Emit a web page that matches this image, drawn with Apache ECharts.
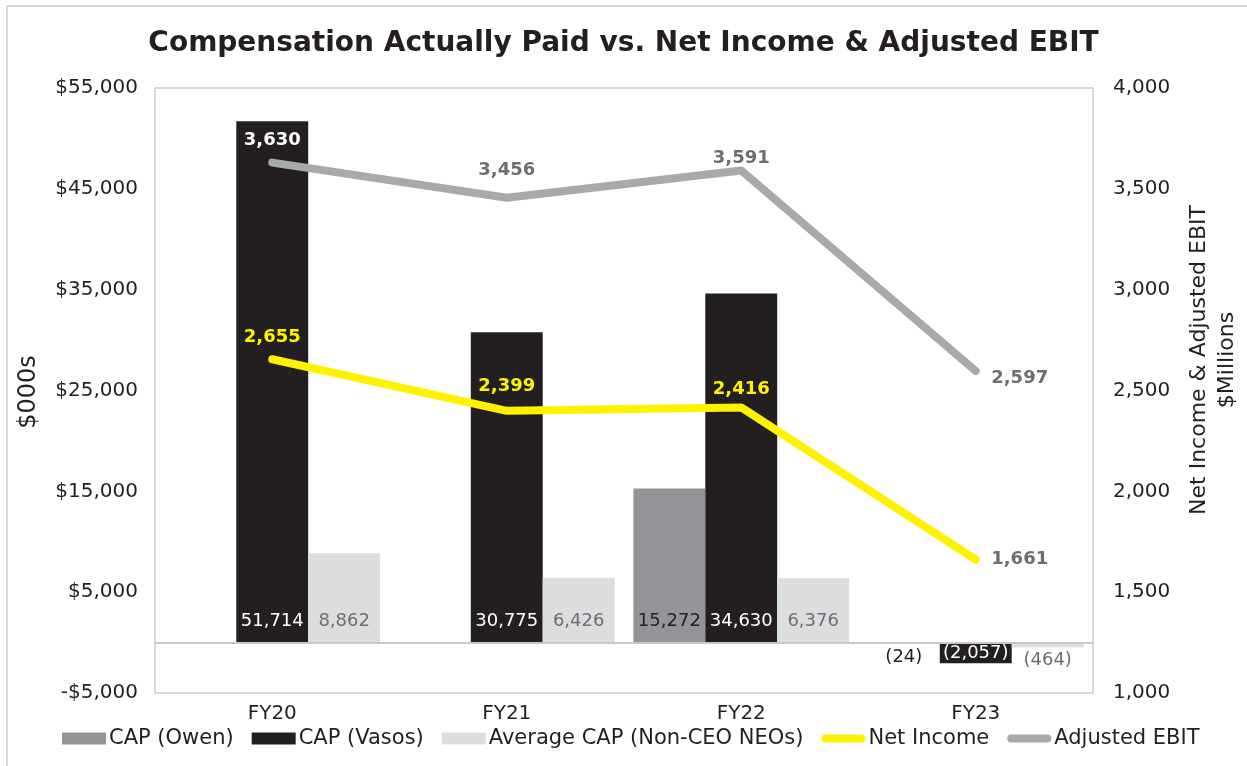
<!DOCTYPE html>
<html>
<head>
<meta charset="utf-8">
<script src="https://cdn.jsdelivr.net/npm/echarts@6/dist/echarts.min.js"></script>
<style>
  html, body { margin: 0; padding: 0; background: #fff; }
  #capChart { width: 1247px; height: 766px; }
</style>
</head>
<body>
<div id="capChart"></div>
<script>
// chart data
let years = ['FY20', 'FY21', 'FY22', 'FY23']
let capOwen = [null, null, 15272, -24]
let capVasos = [51714, 30775, 34630, -2057]
let capAvg = [8862, 6426, 6376, -464]
let netIncome = [2655, 2399, 2416, 1661]
let adjEbit = [3630, 3456, 3591, 2597]
let leftTicks = [-5000, 55000, 10000]
let rightTicks = [1000, 4000, 500]

let font = 'DejaVu Sans'
let ink = '#231f20'
let fmtNum = v => {
  let s = Math.abs(v).toLocaleString('en-US')
  return v < 0 ? '(' + s + ')' : s
}

// label placement for the line points
let ebitLabel = [
  {position: 'top', distance: 13, color: '#ffffff'},
  {position: 'top', distance: 18, color: '#6d6e71'},
  {position: 'top', distance: 3, color: '#6d6e71'},
  {position: 'right', distance: 15, color: '#6d6e71', offset: [0, 7]}
]
let niLabel = [
  {position: 'top', distance: 12, color: '#fff200'},
  {position: 'top', distance: 15, color: '#fff200'},
  {position: 'top', distance: 9, color: '#fff200'},
  {position: 'right', distance: 15, color: '#6d6e71'}
]

let barItems = (arr, negLabel) => arr.map(v => {
  if (v === null) return null
  if (v < 0) return {value: v, label: negLabel}
  return v
})

let linePath = 'path://M5,0 L47,0 A4.5,4.5 0 0 1 47,9 L5,9 A4.5,4.5 0 0 1 5,0 Z'

let myChart = echarts.init(document.getElementById('capChart'))
myChart.setOption({
  animation: false,
  title: {
    text: 'Compensation Actually Paid vs. Net Income & Adjusted EBIT',
    left: 'center',
    top: 25,
    textStyle: {fontFamily: font, fontWeight: 'bold', fontSize: 28, color: ink}
  },
  graphic: [
    {type: 'rect', shape: {x: 7, y: 6, width: 1400, height: 900}, style: {fill: 'none', stroke: '#d9d9d9', lineWidth: 2}, silent: true},
    {type: 'text', x: 29, y: 392, rotation: Math.PI / 2, silent: true,
      style: {text: '$000s', font: '24px "DejaVu Sans"', fill: ink, align: 'center', verticalAlign: 'middle'}},
    {type: 'text', x: 1213, y: 360, rotation: Math.PI / 2, silent: true,
      style: {text: 'Net Income & Adjusted EBIT\n$Millions', font: '22px "DejaVu Sans"', lineHeight: 28, fill: ink, align: 'center', verticalAlign: 'middle'}}
  ],
  grid: {
    show: true,
    left: 155,
    right: 154,
    top: 88,
    bottom: 73,
    outerBoundsMode: 'none',
    containLabel: false,
    borderColor: '#d9d9d9',
    borderWidth: 2
  },
  legend: {
    bottom: 12,
    left: 57,
    itemGap: 18,
    itemWidth: 44,
    itemHeight: 12,
    textStyle: {fontFamily: font, fontSize: 21, color: ink, padding: [0, 0, 0, -2]},
    data: [
      {name: 'CAP (Owen)', icon: 'rect'},
      {name: 'CAP (Vasos)', icon: 'rect'},
      {name: 'Average CAP (Non-CEO NEOs)', icon: 'rect'},
      {name: 'Net Income', icon: linePath},
      {name: 'Adjusted EBIT', icon: linePath}
    ]
  },
  xAxis: {
    type: 'category',
    data: years,
    axisLine: {show: false},
    axisTick: {show: false},
    axisLabel: {fontFamily: font, fontSize: 20, color: ink, margin: 11}
  },
  yAxis: [
    {
      type: 'value',
      min: leftTicks[0],
      max: leftTicks[1],
      interval: leftTicks[2],
      splitLine: {show: false},
      axisLine: {show: false},
      axisTick: {show: false},
      axisLabel: {
        fontFamily: font, fontSize: 20, color: ink, margin: 17,
        formatter: v => (v < 0 ? '-$' : '$') + Math.abs(v).toLocaleString('en-US')
      }
    },
    {
      type: 'value',
      min: rightTicks[0],
      max: rightTicks[1],
      interval: rightTicks[2],
      splitLine: {show: false},
      axisLine: {show: false},
      axisTick: {show: false},
      axisLabel: {
        fontFamily: font, fontSize: 20, color: ink, margin: 20,
        formatter: v => v.toLocaleString('en-US')
      }
    }
  ],
  series: [
    {
      name: 'CAP (Owen)',
      type: 'bar',
      barGap: 0,
      barCategoryGap: '8%',
      itemStyle: {color: '#939598'},
      label: {show: true, position: 'insideBottom', distance: 12, fontFamily: font, fontSize: 18, color: ink, formatter: p => fmtNum(p.value)},
      data: barItems(capOwen, {position: 'bottom', distance: 6}),
      markLine: {
        silent: true,
        symbol: 'none',
        label: {show: false},
        lineStyle: {color: '#c8c8c8', width: 2, type: 'solid'},
        data: [{yAxis: 0}]
      }
    },
    {
      name: 'CAP (Vasos)',
      type: 'bar',
      itemStyle: {color: ink},
      label: {show: true, position: 'insideBottom', distance: 12, fontFamily: font, fontSize: 18, color: '#ffffff', formatter: p => fmtNum(p.value)},
      data: barItems(capVasos, {position: 'inside'})
    },
    {
      name: 'Average CAP (Non-CEO NEOs)',
      type: 'bar',
      itemStyle: {color: '#dcdddf'},
      label: {show: true, position: 'insideBottom', distance: 12, fontFamily: font, fontSize: 18, color: '#6d6e71', formatter: p => fmtNum(p.value)},
      data: barItems(capAvg, {position: 'bottom', distance: 4})
    },
    {
      name: 'Net Income',
      type: 'line',
      yAxisIndex: 1,
      symbol: 'circle',
      symbolSize: 1,
      z: 5,
      itemStyle: {color: '#fff200'},
      lineStyle: {color: '#fff200', width: 8, cap: 'round', join: 'round'},
      label: {show: true, fontFamily: font, fontSize: 18, fontWeight: 'bold', formatter: p => fmtNum(p.value)},
      data: netIncome.map((v, i) => ({value: v, label: niLabel[i]}))
    },
    {
      name: 'Adjusted EBIT',
      type: 'line',
      yAxisIndex: 1,
      symbol: 'circle',
      symbolSize: 1,
      z: 5,
      itemStyle: {color: '#a7a9ac'},
      lineStyle: {color: '#a7a9ac', width: 8, cap: 'round', join: 'round'},
      label: {show: true, fontFamily: font, fontSize: 18, fontWeight: 'bold', formatter: p => fmtNum(p.value)},
      data: adjEbit.map((v, i) => ({value: v, label: ebitLabel[i]}))
    }
  ]
})
</script>
</body>
</html>
